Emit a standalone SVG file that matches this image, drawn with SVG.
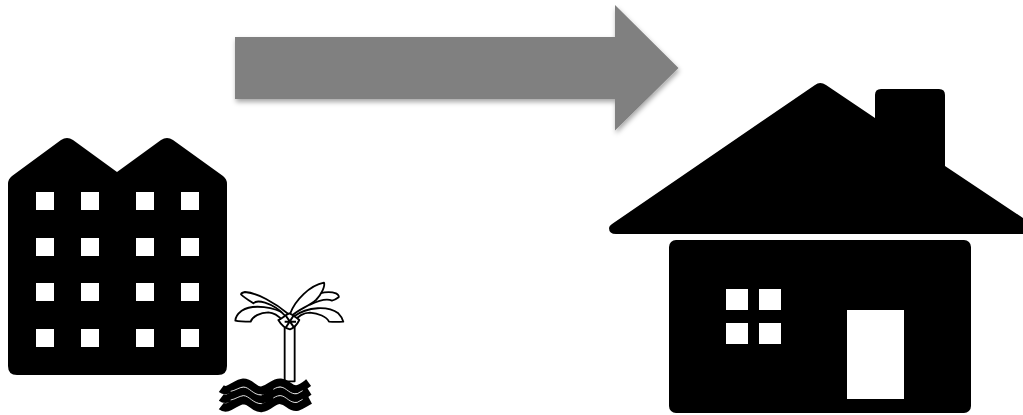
<svg xmlns="http://www.w3.org/2000/svg" width="1023" height="415" viewBox="0 0 1023 415">
<style>
.k{fill:#000}
.w{fill:#fff}
.leaf{fill:#fff;stroke:#000;stroke-width:5.500;stroke-linejoin:round}
.wave{fill:none;stroke:#000;stroke-width:25;stroke-linecap:butt}
.wl{fill:none;stroke:#fff;stroke-width:2.500}
</style>
<defs>
<filter id="soft" x="-5%" y="-5%" width="110%" height="110%"><feGaussianBlur stdDeviation="0.7"/></filter>
<filter id="shadow" x="-5%" y="-10%" width="110%" height="125%"><feDropShadow dx="1" dy="3" stdDeviation="2.5" flood-color="#000" flood-opacity="0.35"/></filter>
</defs>
<rect width="1023" height="415" fill="#fff"/>
<g id="connectors">
<path id="arrow" d="M235 37H615V5L678.500 68L615 130.500V99H235Z" fill="#808080" filter="url(#shadow)"/>
</g>
<g id="apartment" filter="url(#soft)">
<path class="k" d="M8 184Q8 179 12 176L61 140Q67 136 73 140L117 172L161 140Q167 136 173 140L223 176Q227 179 227 184V366Q227 375 218 375H17Q8 375 8 366Z"/>
<g class="w">
<rect x="36" y="192" width="18" height="18"/><rect x="81" y="192" width="18" height="18"/><rect x="136" y="192" width="18" height="18"/><rect x="181" y="192" width="18" height="18"/>
<rect x="36" y="238" width="18" height="18"/><rect x="81" y="238" width="18" height="18"/><rect x="136" y="238" width="18" height="18"/><rect x="181" y="238" width="18" height="18"/>
<rect x="36" y="283" width="18" height="18"/><rect x="81" y="283" width="18" height="18"/><rect x="136" y="283" width="18" height="18"/><rect x="181" y="283" width="18" height="18"/>
<rect x="36" y="329" width="18" height="18"/><rect x="81" y="329" width="18" height="18"/><rect x="136" y="329" width="18" height="18"/><rect x="181" y="329" width="18" height="18"/>
</g>
</g>
<g id="palm" filter="url(#soft)" transform="translate(210 270) scale(.3333)">
<path class="leaf" d="M224 168H254V334H224Z"/>
<path class="wave" d="M34 356C55 372 75 340 100 338C125 338 130 364 155 362C180 358 190 336 212 338C235 340 240 362 262 358C275 354 285 346 296 338"/>
<path class="wave" d="M34 382C55 398 75 366 100 364C125 364 130 390 155 388C180 384 190 362 212 364C235 366 240 388 262 384C275 380 285 372 298 364"/>
<path class="wave" d="M34 408C55 424 75 392 100 390C125 390 130 416 155 414C180 410 190 388 212 390C235 392 240 414 262 410C275 406 285 398 300 390"/>
<path class="wl" d="M62 364C75 362 88 352 100 351C118 351 130 376 155 375M190 358C200 352 205 351 212 351C230 353 240 375 262 371L278 362M62 390C75 388 88 378 100 377C118 377 130 402 155 401M190 384C200 378 205 377 212 377C230 379 240 401 262 397L278 388"/>
<path class="leaf" d="M228 134C195 112 130 100 95 122C82 132 76 142 76 152C90 155 108 155 122 155C127 140 150 127 175 127C195 128 208 140 218 152Z"/>
<path class="leaf" d="M235 132C195 98 140 68 105 66C98 67 94 70 93 73C105 84 118 92 130 100C136 93 148 93 165 98C190 106 210 120 226 138Z"/>
<path class="leaf" d="M278 96C310 72 350 60 378 70C384 73 388 78 386 82C378 88 372 91 366 92C350 84 325 92 300 104Z"/>
<path class="leaf" d="M250 140C295 108 355 108 385 130C393 138 398 147 400 155C385 156 370 156 357 155C350 140 325 130 300 128C280 128 262 140 256 152Z"/>
<path class="leaf" d="M240 132C255 90 300 46 342 38C346 48 335 72 318 90C295 110 265 118 245 138Z"/>
<path class="leaf" d="M205 150C218 145 225 135 238 130C250 135 262 145 268 150C262 162 250 175 240 178C225 175 212 162 205 150Z"/>
<path d="M228 138L252 172M250 138L228 172M224 155H258" fill="none" stroke="#000" stroke-width="6"/>
</g>
<g id="house" filter="url(#soft)">
<path class="k" d="M815 85Q820 81 826 85L875 118V95Q875 89 881 89H939Q945 89 945 95V166L1023 218V234H616Q609 234 609 228Q609 226 612 224Z"/>
<rect class="k" x="669" y="240" width="302" height="173" rx="7"/>
<g class="w">
<rect x="726" y="289" width="22" height="21"/><rect x="759" y="289" width="22" height="21"/>
<rect x="726" y="323" width="22" height="21"/><rect x="759" y="323" width="22" height="21"/>
<rect x="847" y="310" width="57" height="89"/>
</g>
</g>
</svg>
